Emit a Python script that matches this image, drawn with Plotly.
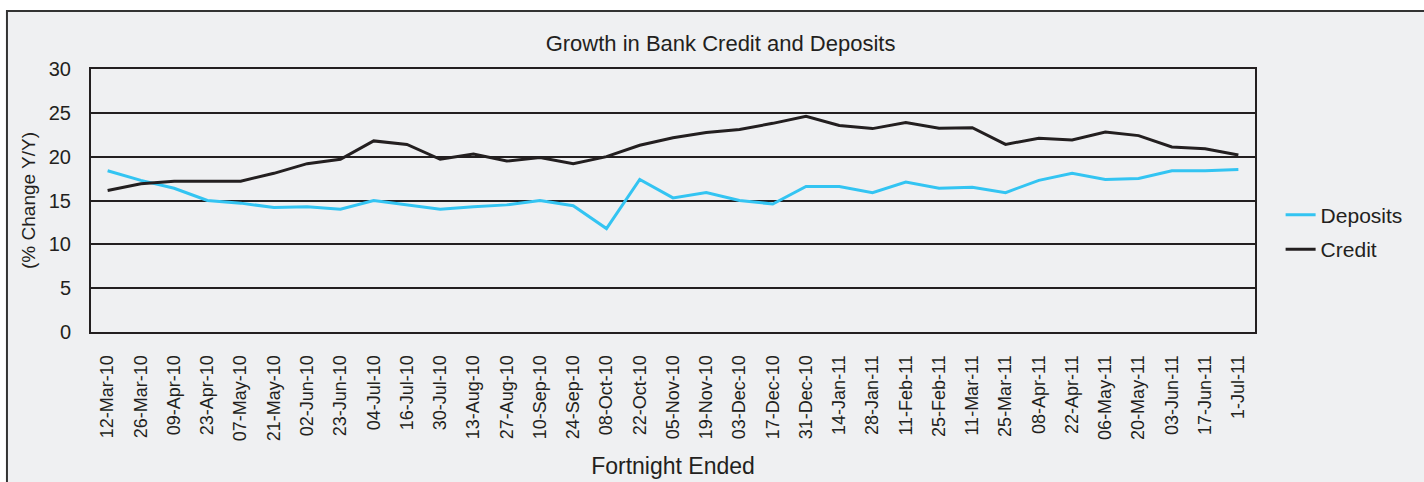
import plotly.graph_objects as go

dates = ["12-Mar-10", "26-Mar-10", "09-Apr-10", "23-Apr-10", "07-May-10", "21-May-10",
         "02-Jun-10", "23-Jun-10", "04-Jul-10", "16-Jul-10", "30-Jul-10", "13-Aug-10",
         "27-Aug-10", "10-Sep-10", "24-Sep-10", "08-Oct-10", "22-Oct-10", "05-Nov-10",
         "19-Nov-10", "03-Dec-10", "17-Dec-10", "31-Dec-10", "14-Jan-11", "28-Jan-11",
         "11-Feb-11", "25-Feb-11", "11-Mar-11", "25-Mar-11", "08-Apr-11", "22-Apr-11",
         "06-May-11", "20-May-11", "03-Jun-11", "17-Jun-11", "1-Jul-11"]

deposits = [18.4, 17.3, 16.4, 15.0, 14.7, 14.2, 14.3, 14.0, 15.0, 14.5, 14.0, 14.3,
            14.5, 15.0, 14.4, 11.8, 17.4, 15.3, 15.9, 15.0, 14.6, 16.6, 16.6, 15.9,
            17.1, 16.4, 16.5, 15.9, 17.3, 18.1, 17.4, 17.5, 18.4, 18.4, 18.55]

credit = [16.15, 16.9, 17.2, 17.2, 17.2, 18.1, 19.2, 19.7, 21.8, 21.4, 19.7, 20.3,
          19.5, 19.9, 19.2, 20.0, 21.3, 22.15, 22.75, 23.1, 23.8, 24.6, 23.55, 23.2,
          23.9, 23.25, 23.3, 21.4, 22.1, 21.9, 22.8, 22.4, 21.1, 20.9, 20.2]

yticks = [0, 5, 10, 15, 20, 25, 30]

TXT = "#231f20"
BG = "#eff0f2"
FONT = "Liberation Sans, Arial, sans-serif"

fig = go.Figure()
fig.add_trace(go.Scatter(x=dates, y=deposits, name="Deposits", mode="lines",
                         legendgroup="d", line=dict(color="#33c4f2", width=3)))
fig.add_trace(go.Scatter(x=dates, y=credit, name="Credit", mode="lines",
                         legendgroup="c", line=dict(color="#231f20", width=3)))

fig.update_layout(
    width=1424, height=482,
    margin=dict(l=91, r=169, t=69, b=150),
    paper_bgcolor="white",
    plot_bgcolor=BG,
    font=dict(family=FONT, color=TXT, size=18),
    title=dict(text="Growth in Bank Credit and Deposits", x=0.506, xanchor="center",
               y=1 - 43 / 482, yanchor="middle", font=dict(size=22, color=TXT)),
    showlegend=True,
    legend=dict(x=1.022, xanchor="left", y=0.522, yanchor="top",
                bgcolor="rgba(0,0,0,0)", font=dict(size=21, color=TXT),
                traceorder="grouped", tracegroupgap=4),
    shapes=[dict(type="rect", xref="paper", yref="paper",
                 x0=-0.0722, x1=1.2, y0=-0.7, y1=1.2205,
                 line=dict(color="#333333", width=2), fillcolor=BG, layer="below")],
)

fig.update_xaxes(
    type="category", range=[-0.5, len(dates) - 0.5], tickangle=-90, showgrid=False,
    automargin=False,
    ticks="outside", ticklen=14, tickcolor="rgba(0,0,0,0)",
    showline=True, linecolor=TXT, linewidth=2, mirror=True,
    tickfont=dict(size=18, color=TXT),
    title=dict(text="Fortnight Ended", font=dict(size=23, color=TXT), standoff=18),
)
fig.update_yaxes(
    range=[0, 30], tickvals=yticks, showgrid=True, gridcolor=TXT, gridwidth=1.5,
    automargin=False,
    showline=True, linecolor=TXT, linewidth=2, mirror=True, zeroline=False,
    ticks="outside", ticklen=14, tickcolor="rgba(0,0,0,0)",
    tickfont=dict(size=20, color=TXT),
    title=dict(text="(% Change Y/Y)", font=dict(size=19, color=TXT), standoff=8),
)

fig.write_html("out.html")
